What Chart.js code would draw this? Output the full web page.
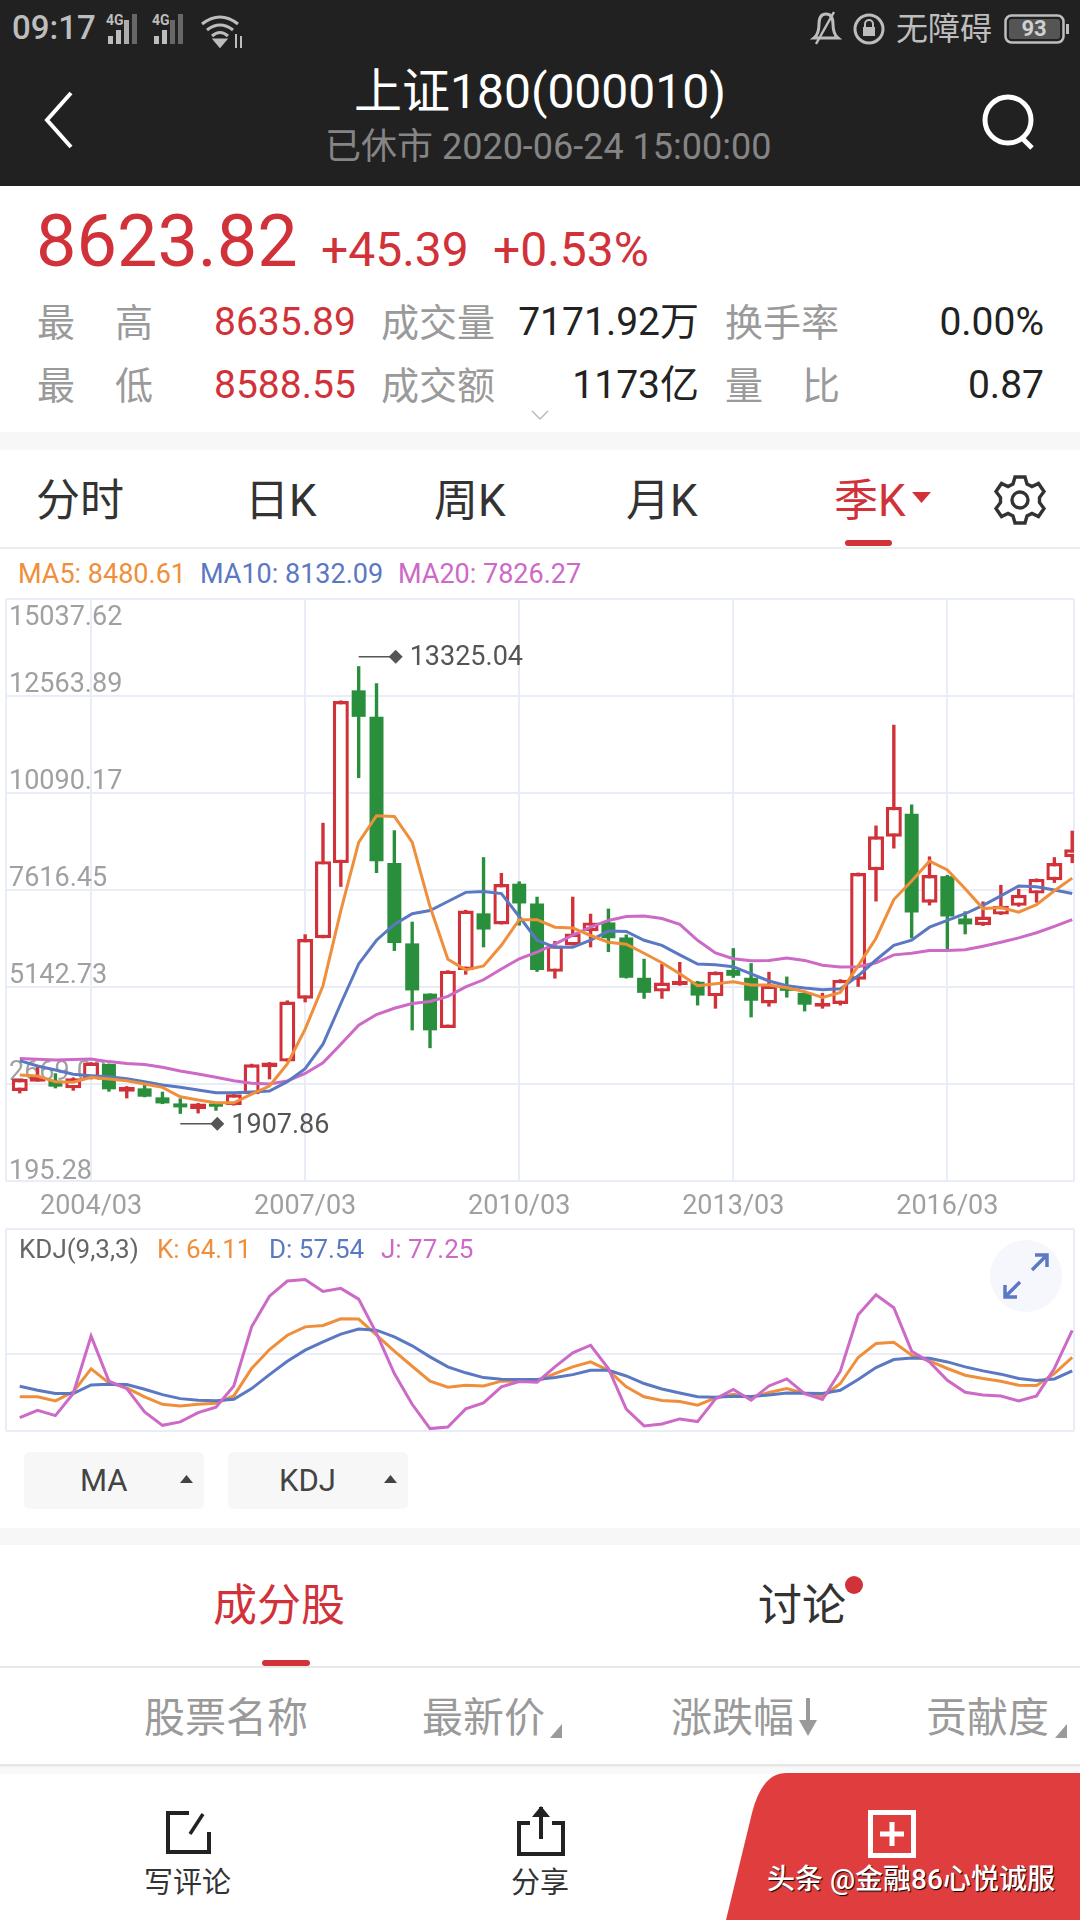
<!DOCTYPE html>
<html lang="zh"><head><meta charset="utf-8">
<script src="https://cdn.jsdelivr.net/npm/chart.js@4/dist/chart.umd.js"></script>
<style>
html,body{margin:0;padding:0;background:#fff;width:1080px;height:1920px;overflow:hidden;font-family:Roboto,"Noto Sans CJK SC",sans-serif}
.t{position:absolute;white-space:nowrap;line-height:1}
.b{position:absolute}
canvas{position:absolute;left:0}
svg{position:absolute;overflow:visible}
</style></head><body>
<div class="b" style="left:0;top:0;width:1080px;height:186px;background:#212121"></div>
<span class="t" style="left:12px;top:11px;font-size:33px;color:#bdbdbd;font-weight:500">09:17</span>
<svg style="left:106px;top:12px" width="120" height="34" fill="#bdbdbd"><text x="0" y="13" font-size="14" font-weight="700">4G</text><rect x="2" y="24" width="5" height="8"/><rect x="10" y="18" width="5" height="14"/><rect x="18" y="8" width="5" height="24" opacity=".9"/><rect x="26" y="2" width="5" height="30" opacity=".45"/><text x="46" y="13" font-size="14" font-weight="700">4G</text><rect x="48" y="24" width="5" height="8"/><rect x="56" y="18" width="5" height="14"/><rect x="64" y="8" width="5" height="24" opacity=".45"/><rect x="72" y="2" width="5" height="30" opacity=".45"/></svg>
<svg style="left:200px;top:14px" width="44" height="34" fill="none" stroke="#bdbdbd" stroke-width="3"><path d="M2 10Q20-4 38 10M7 16Q20 6 33 16M12 22Q20 15 28 22"/><path d="M20 32l-5-6h10z" fill="#bdbdbd"/><path d="M36 20v14M41 22v12" stroke-width="2"/></svg>
<svg style="left:810px;top:10px" width="32" height="36" fill="none" stroke="#bdbdbd" stroke-width="3"><path d="M4 28Q9 24 9 14Q9 4 16 4Q23 4 23 14Q23 24 28 28Z"/><path d="M6 34L24 2" stroke-width="2.5"/></svg>
<svg style="left:853px;top:12px" width="32" height="34" fill="none" stroke="#bdbdbd" stroke-width="3"><circle cx="16" cy="17" r="14"/><rect x="10" y="15" width="12" height="9" fill="#bdbdbd" stroke="none"/><path d="M12 15v-3a4 4 0 0 1 8 0v3" stroke-width="2"/></svg>
<span class="t" style="left:896px;top:13px;font-size:32px;color:#bdbdbd">无障碍</span>
<svg style="left:1004px;top:14px" width="68" height="30"><rect x="1.5" y="1.5" width="58" height="27" rx="6" fill="none" stroke="#bdbdbd" stroke-width="2.5"/><rect x="5" y="5" width="51" height="20" rx="3" fill="#555"/><rect x="62" y="10" width="3" height="10" fill="#bdbdbd"/><text x="30" y="22" font-size="22" font-weight="700" fill="#d0d0d0" text-anchor="middle">93</text></svg>
<span class="t" style="left:340px;top:68px;width:400px;text-align:center;font-size:48px;color:#fff">上证180(000010)</span>
<span class="t" style="left:325px;top:129px;font-size:36px;color:#858585">已休市 2020-06-24 15:00:00</span>
<svg style="left:40px;top:90px" width="36" height="60" fill="none" stroke="#fff" stroke-width="4"><path d="M31 3L7 30L31 57"/></svg>
<svg style="left:980px;top:92px" width="60" height="60" fill="none" stroke="#fff" stroke-width="5"><circle cx="28" cy="28" r="23"/><path d="M42 46L52 56"/></svg>

<span class="t" style="left:36px;top:206px;font-size:72px;color:#d1323a">8623.82</span>
<span class="t" style="left:321px;top:226px;font-size:48px;color:#d1323a">+45.39</span>
<span class="t" style="left:493px;top:226px;font-size:48px;color:#d1323a">+0.53%</span>

<span class="t" style="left:37px;top:304px;font-size:38px;color:#9a9a9a">最</span>
<span class="t" style="left:115px;top:304px;font-size:38px;color:#9a9a9a">高</span>
<span class="t" style="left:214px;top:303px;font-size:39px;color:#d1323a">8635.89</span>
<span class="t" style="left:381px;top:304px;font-size:38px;color:#9a9a9a">成交量</span>
<span class="t" style="right:381px;top:303px;font-size:39px;color:#222">7171.92万</span>
<span class="t" style="left:725px;top:304px;font-size:38px;color:#9a9a9a">换手率</span>
<span class="t" style="right:36px;top:303px;font-size:39px;color:#222">0.00%</span>
<span class="t" style="left:37px;top:367px;font-size:38px;color:#9a9a9a">最</span>
<span class="t" style="left:115px;top:367px;font-size:38px;color:#9a9a9a">低</span>
<span class="t" style="left:214px;top:366px;font-size:39px;color:#d1323a">8588.55</span>
<span class="t" style="left:381px;top:367px;font-size:38px;color:#9a9a9a">成交额</span>
<span class="t" style="right:381px;top:366px;font-size:39px;color:#222">1173亿</span>
<span class="t" style="left:725px;top:367px;font-size:38px;color:#9a9a9a">量</span>
<span class="t" style="left:802px;top:367px;font-size:38px;color:#9a9a9a">比</span>
<span class="t" style="right:36px;top:366px;font-size:39px;color:#222">0.87</span>
<svg style="left:531px;top:410px" width="18" height="10" fill="none" stroke="#bbb" stroke-width="1.5"><path d="M1 1L9 9L17 1"/></svg>
<div class="b" style="left:0;top:432px;width:1080px;height:18px;background:#f7f7f7"></div>

<span class="t" style="left:36px;top:479px;font-size:44px;color:#333">分时</span>
<span class="t" style="left:245px;top:479px;font-size:44px;color:#333">日K</span>
<span class="t" style="left:434px;top:479px;font-size:44px;color:#333">周K</span>
<span class="t" style="left:626px;top:479px;font-size:44px;color:#333">月K</span>
<span class="t" style="left:834px;top:479px;font-size:44px;color:#d1323a">季K</span>
<svg style="left:912px;top:492px" width="20" height="12"><path d="M0 0H19L9.5 11Z" fill="#d1323a"/></svg>
<svg style="left:994px;top:474px" width="52" height="52" fill="none" stroke="#333" stroke-width="3.4"><circle cx="26" cy="26" r="8"/><path d="M21 3h10l2 7 5 2.500 6.500-3 5.500 8-4.500 6v5l4.500 6-5.500 8-6.500-3-5 2.500-2 7H21l-2-7-5-2.500-6.500 3-5.500-8 4.500-6v-5l-4.500-6 5.500-8 6.500 3 5-2.500z"/></svg>
<div class="b" style="left:845px;top:540px;width:47px;height:6px;border-radius:3px;background:#d1323a"></div>
<div class="b" style="left:0;top:547px;width:1080px;height:2px;background:#ececec"></div>

<span class="t" style="left:18px;top:561px;font-size:27px;color:#ef8f3b">MA5: 8480.61</span>
<span class="t" style="left:200px;top:561px;font-size:27px;color:#5b78c2">MA10: 8132.09</span>
<span class="t" style="left:398px;top:561px;font-size:27px;color:#cd69c6">MA20: 7826.27</span>

<canvas id="kline" width="1080" height="630" style="top:590px"></canvas>
<canvas id="kdj" width="1080" height="220" style="top:1220px"></canvas>

<span class="t" style="left:19px;top:1236px;font-size:26px;color:#666">KDJ(9,3,3)</span>
<span class="t" style="left:157px;top:1236px;font-size:26px;color:#ef8f3b">K: 64.11</span>
<span class="t" style="left:269px;top:1236px;font-size:26px;color:#5b78c2">D: 57.54</span>
<span class="t" style="left:381px;top:1236px;font-size:26px;color:#cd69c6">J: 77.25</span>
<svg style="left:990px;top:1240px" width="72" height="72"><circle cx="36" cy="36" r="36" fill="#f5f7fc"/><g fill="none" stroke="#5b78c2" stroke-width="3.500"><path d="M42 30L56 16M45 15H57V27"/><path d="M30 42L16 56M15 45V57H27"/></g></svg>

<div class="b" style="left:24px;top:1452px;width:180px;height:57px;border-radius:6px;background:#f7f7f7"></div>
<div class="b" style="left:228px;top:1452px;width:180px;height:57px;border-radius:6px;background:#f7f7f7"></div>
<span class="t" style="left:80px;top:1465px;font-size:31px;color:#444">MA</span>
<span class="t" style="left:279px;top:1465px;font-size:31px;color:#444">KDJ</span>
<svg style="left:180px;top:1475px" width="13" height="8"><path d="M0 8H13L6.500 0Z" fill="#444"/></svg>
<svg style="left:384px;top:1475px" width="13" height="8"><path d="M0 8H13L6.500 0Z" fill="#444"/></svg>
<div class="b" style="left:0;top:1528px;width:1080px;height:17px;background:#f7f7f7"></div>

<span class="t" style="left:213px;top:1584px;font-size:44px;color:#d1323a">成分股</span>
<span class="t" style="left:758px;top:1584px;font-size:44px;color:#333">讨论</span>
<div class="b" style="left:845px;top:1576px;width:18px;height:18px;border-radius:50%;background:#d1323a"></div>
<div class="b" style="left:262px;top:1660px;width:48px;height:6px;border-radius:3px;background:#d1323a"></div>
<div class="b" style="left:0;top:1666px;width:1080px;height:2px;background:#e8e8e8"></div>

<span class="t" style="left:144px;top:1698px;font-size:41px;color:#9a9a9a">股票名称</span>
<span class="t" style="left:422px;top:1698px;font-size:41px;color:#9a9a9a">最新价</span>
<svg style="left:550px;top:1724px" width="12" height="14"><path d="M12 0V14H0Z" fill="#9a9a9a"/></svg>
<span class="t" style="left:671px;top:1698px;font-size:41px;color:#9a9a9a">涨跌幅</span>
<svg style="left:798px;top:1698px" width="20" height="40"><path d="M10 0V24" stroke="#9a9a9a" stroke-width="4"/><path d="M1 22H19L10 38Z" fill="#9a9a9a"/></svg>
<span class="t" style="left:926px;top:1698px;font-size:41px;color:#9a9a9a">贡献度</span>
<svg style="left:1055px;top:1724px" width="12" height="14"><path d="M12 0V14H0Z" fill="#9a9a9a"/></svg>
<div class="b" style="left:0;top:1764px;width:1080px;height:10px;background:linear-gradient(#e6e6e6 0,#e6e6e6 20%,#f8f8f8 30%,#f8f8f8 100%)"></div>

<svg style="left:726px;top:1773px" width="354" height="147"><path d="M0 147L26 40Q36 0 60 0H354V147Z" fill="#e03e3e"/></svg>
<svg style="left:868px;top:1810px" width="48" height="48" fill="none" stroke="#fff"><rect x="2.500" y="2.500" width="43" height="43" stroke-width="5"/><path d="M24 12V36M12 24H36" stroke-width="5"/></svg>
<span class="t" style="left:767px;top:1866px;font-size:28px;color:#fff;font-weight:500;text-shadow:1px 1px 1px #000">头条 @金融86心悦诚服</span>
<svg style="left:165px;top:1810px" width="48" height="46" fill="none" stroke="#222" stroke-width="4"><path d="M24 3H3V42H44V22"/><path d="M25 24L38 4" stroke-width="3.500"/></svg>
<svg style="left:516px;top:1803px" width="50" height="54" fill="none" stroke="#222" stroke-width="4"><path d="M14 20H3V51H47V20H36"/><path d="M25 36V4"/><path d="M16 14L25 3L34 14Z" fill="#222" stroke="none"/></svg>
<span class="t" style="left:144px;top:1869px;font-size:29px;color:#333">写评论</span>
<span class="t" style="left:511px;top:1869px;font-size:29px;color:#333">分享</span>

<script>
const quarters = ['2003/03','2003/06','2003/09','2003/12','2004/03','2004/06','2004/09','2004/12','2005/03','2005/06','2005/09','2005/12','2006/03','2006/06','2006/09','2006/12','2007/03','2007/06','2007/09','2007/12','2008/03','2008/06','2008/09','2008/12','2009/03','2009/06','2009/09','2009/12','2010/03','2010/06','2010/09','2010/12','2011/03','2011/06','2011/09','2011/12','2012/03','2012/06','2012/09','2012/12','2013/03','2013/06','2013/09','2013/12','2014/03','2014/06','2014/09','2014/12','2015/03','2015/06','2015/09','2015/12','2016/03','2016/06','2016/09','2016/12','2017/03','2017/06','2017/09','2017/12'];
const opens = [2490,2729,2754,2558,2788,3181,2473,2558,2328,2174,2029,2174,2132,2405,3096,3240,4844,6386,8302,12708,12032,8302,6255,4974,4097,5579,7021,6739,7777,7273,5529,6204,6567,6789,6406,5378,5025,5196,5277,4904,5579,5378,4722,5125,4994,4642,4712,5327,8120,8977,9562,7293,7969,6891,6719,6991,7213,7525,7868,8453];
const closes = [2797,2857,2601,2814,3215,2533,2601,2345,2174,2072,2174,2089,2405,3172,3215,4773,6366,8352,12436,12032,8352,6265,5055,4037,5559,7092,6608,7767,7273,5579,6204,6507,6789,6386,5378,4994,5257,5297,4924,5529,5428,4793,5176,5045,4692,4732,5327,8050,8987,9734,7041,7999,6941,6739,6941,7213,7495,7898,8302,8655];
const highs = [2797,3113,2942,2830,3225,3190,2615,2643,2473,2302,2185,2190,2410,3185,3225,4800,6487,9330,12450,13325.04,12889,9139,6809,4980,5570,7110,8453,8050,7837,7445,6315,7445,7011,7142,6480,5862,5731,5781,5297,5540,6134,5751,5529,5408,5010,4994,5340,8060,9260,11831,9794,8473,8000,7072,7324,7747,7646,7910,8453,9129];
const lows = [2430,2729,2558,2498,2788,2473,2302,2330,2157,1907.86,1918,1987,2120,2400,2788,3240,4752,6386,7697,10470,8050,6063,4037,3583,4097,5458,6154,6739,6709,5529,5358,6204,6154,6033,5360,4843,4843,5176,4672,4591,5378,4369,4642,4874,4520,4591,4672,5146,7324,8675,6386,7223,6104,6487,6700,6980,7190,7294,7798,8302];
const ma5 = [2899,2874,2729,2712,2840,2797,2754,2669,2584,2345,2260,2191,2191,2413,2618,3180,4067,5176,7092,8830,9512,9492,8836,7193,5852,5579,5680,6205,6860,6860,6668,6648,6456,6285,6235,6003,5761,5479,5176,5226,5277,5196,5196,5125,5025,4874,5005,5680,6386,7374,7848,8352,8130,7647,7142,7172,7052,7243,7596,7919];
const ma10 = [3266,3130,3027,2916,2882,2857,2805,2729,2643,2584,2515,2447,2447,2464,2490,2729,3058,3684,4722,5731,6335,6739,7011,7092,7324,7556,7576,7525,6941,6335,6154,6154,6335,6568,6558,6335,6205,5962,5730,5710,5660,5479,5297,5176,5116,5075,5095,5428,5831,6205,6335,6668,6840,7011,7223,7465,7717,7697,7616,7525];
const ma20 = [3317,3300,3283,3292,3309,3240,3189,3164,3096,3002,2925,2840,2754,2686,2669,2746,2937,3210,3684,4168,4440,4601,4722,4773,4904,5146,5327,5600,5862,6033,6235,6467,6668,6840,6941,6951,6890,6739,6335,6013,5862,5811,5821,5882,5821,5700,5650,5660,5761,5962,6003,6073,6073,6093,6184,6285,6396,6527,6688,6860];
const kValues = [21.3,21.3,18.6,24.6,40.0,30.6,27.3,21.3,16.3,15.2,16.3,17.0,21.9,40.3,53.0,62.6,68.2,69.1,73.6,73.4,62.6,51.9,41.8,31.8,27.7,29.1,28.6,31.8,31.8,31.8,36.9,41.4,44.7,39.1,28.0,21.3,18.8,18.1,15.7,20.6,23.0,20.8,24.2,26.8,23.5,21.3,30.2,47.7,57.0,57.9,49.2,45.4,40.3,35.8,33.6,31.8,29.1,28.9,36.9,47.7];
const dValues = [28.4,25.7,23.5,23.5,29.3,29.8,29.5,26.4,22.8,20.1,19.0,18.6,19.7,26.8,36.2,45.2,52.6,58.2,63.3,66.7,66.0,61.5,55.5,48.1,41.4,37.4,34.2,33.1,32.9,32.9,34.2,36.2,39.1,39.1,35.3,30.2,26.6,23.9,21.3,21.0,21.7,21.5,22.6,23.9,23.7,23.5,25.7,32.9,40.9,46.3,47.4,47.2,44.7,41.4,38.7,36.5,33.6,32.2,33.3,38.7];
const jValues = [7.4,12.3,8.7,23.5,62.0,31.8,26.8,11.2,2.2,4.5,10.7,14.3,28.6,68.2,88.8,98.9,100,91.9,94.0,86.8,63.8,36.9,16.3,0,1.1,13.2,17.2,28.0,31.5,31.1,41.4,50.8,55.9,40.3,13.0,1.8,3.1,6.5,4.7,19.9,26.2,19.0,28.6,33.3,23.5,19.5,38.5,76.3,89.7,81.0,51.9,44.7,32.4,24.4,22.6,21.9,18.6,21.9,40.3,65.8];
const xTickLabels = ['2004/03','2007/03','2010/03','2013/03','2016/03'];
const yTickLabels = ['195.28','2669.00','5142.73','7616.45','10090.17','12563.89','15037.62'];

const RED='#d1323a', GREEN='#2a8f3c', ORANGE='#ef8f3b', BLUE='#5b78c2', PINK='#cd69c6', GRID='#e9edf7';
const FONT='Roboto,"Noto Sans CJK SC",sans-serif';
const X_MIN=-0.77, X_MAX=59.1;
const yVals=yTickLabels.map(Number);
const xTickVals=[X_MIN,...xTickLabels.map(l=>quarters.indexOf(l)),X_MAX];
const idx=quarters.map((_,i)=>i);
const up=idx.filter(i=>closes[i]>=opens[i]);
const down=idx.filter(i=>closes[i]<opens[i]);
const series=a=>a.map((y,x)=>({x,y}));
const line=(data,color,label)=>({type:'line',label,data:series(data),borderColor:color,borderWidth:3,pointRadius:0,tension:0,order:0});
const bars=(ids,fa,fb,opt)=>Object.assign({type:'bar',data:ids.map(i=>({x:i,y:[fa[i],fb[i]]})),grouped:false,borderSkipped:false,inflateAmount:0},opt);
const noPad=s=>{s.paddingLeft=0;s.paddingRight=0;s.paddingTop=0;s.paddingBottom=0;};

const extremes={id:'extremes',afterDatasetsDraw(c){
  const {ctx,scales:{x,y}}=c;
  const hi=highs.indexOf(Math.max(...highs)), lo=lows.indexOf(Math.min(...lows));
  [[hi,highs[hi],-9.5],[lo,lows[lo],10]].forEach(([i,v,dy])=>{
    const px=x.getPixelForValue(i), py=y.getPixelForValue(v)+dy;
    ctx.save();
    ctx.strokeStyle='#555';ctx.fillStyle='#555';ctx.lineWidth=1.5;
    ctx.beginPath();ctx.moveTo(px,py);ctx.lineTo(px+37,py);ctx.stroke();
    ctx.beginPath();ctx.moveTo(px+30,py);ctx.lineTo(px+37,py-7);ctx.lineTo(px+44,py);ctx.lineTo(px+37,py+7);ctx.closePath();ctx.fill();
    ctx.font='27px '+FONT;ctx.textBaseline='middle';ctx.textAlign='left';
    ctx.fillText(v.toFixed(2),px+51,py+2);
    ctx.restore();
  });
}};

new Chart(document.getElementById('kline'),{
  type:'bar',
  data:{datasets:[
    line(ma5,ORANGE,'MA5'),line(ma10,BLUE,'MA10'),line(ma20,PINK,'MA20'),
    bars(up,opens,closes,{label:'up',barThickness:16,backgroundColor:'#fff',borderColor:RED,borderWidth:3.4,order:1}),
    bars(down,opens,closes,{label:'down',barThickness:14,backgroundColor:GREEN,borderWidth:0,order:1}),
    bars(up,lows,highs,{label:'upWick',barThickness:3.4,backgroundColor:RED,borderWidth:0,order:2}),
    bars(down,lows,highs,{label:'downWick',barThickness:3.4,backgroundColor:GREEN,borderWidth:0,order:2})
  ]},
  options:{
    responsive:false,animation:false,devicePixelRatio:1,
    layout:{padding:{left:6,right:6,top:9,bottom:0}},
    plugins:{legend:{display:false},tooltip:{enabled:false}},
    scales:{
      x:{type:'linear',offset:false,min:X_MIN,max:X_MAX,
        grid:{color:GRID,lineWidth:2,drawTicks:false,offset:false},border:{display:false},
        afterBuildTicks:s=>{s.ticks=xTickVals.map(value=>({value}));},
        afterFit:s=>{s.height=39;noPad(s);},
        ticks:{autoSkip:false,maxRotation:0,minRotation:0,padding:10,color:'#a0a0a0',font:{size:27,family:FONT},
          callback:v=>quarters[v]||''}},
      y:{type:'linear',min:yVals[0],max:yVals[yVals.length-1],
        grid:{color:GRID,lineWidth:2,drawTicks:false},border:{display:false},
        afterBuildTicks:s=>{s.ticks=yVals.map(value=>({value}));},
        afterFit:s=>{s.width=0;noPad(s);},
        ticks:{mirror:true,padding:3,autoSkip:false,color:'#a0a0a0',
          font:ctx=>({size:27,family:FONT,lineHeight:ctx.index===6?'38px':(ctx.index===0?'18px':'22px')}),
          callback:(v,i)=>i===6?['',yTickLabels[i]]:[yTickLabels[i],'']}}
    }
  },
  plugins:[extremes]
});

new Chart(document.getElementById('kdj'),{
  type:'line',
  data:{datasets:[line(jValues,PINK,'J'),line(dValues,BLUE,'D'),line(kValues,ORANGE,'K')]},
  options:{
    responsive:false,animation:false,devicePixelRatio:1,
    layout:{padding:{left:6,right:6,top:9,bottom:9}},
    plugins:{legend:{display:false},tooltip:{enabled:false}},
    scales:{
      x:{type:'linear',min:X_MIN,max:X_MAX,grid:{color:GRID,lineWidth:2,drawTicks:false},border:{display:false},
        afterBuildTicks:s=>{s.ticks=[X_MIN,X_MAX].map(value=>({value}));},
        ticks:{display:false}},
      y:{type:'linear',min:-1.6,max:133.8,grid:{color:GRID,lineWidth:2,drawTicks:false},border:{display:false},
        afterBuildTicks:s=>{s.ticks=[-1.6,50,133.8].map(value=>({value}));},
        afterFit:s=>{s.width=0;},
        ticks:{display:false}}
    }
  }
});
</script>
</body></html>
